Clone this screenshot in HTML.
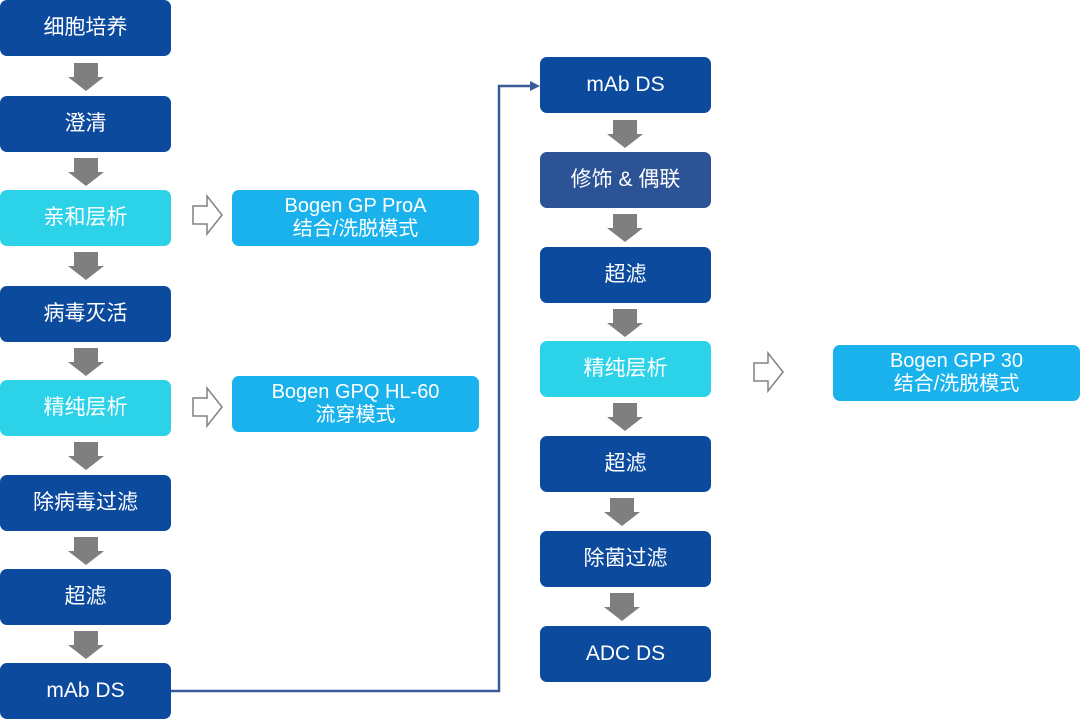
<!DOCTYPE html>
<html><head><meta charset="utf-8"><style>
body{margin:0;width:1080px;height:721px;background:#fff;position:relative;overflow:hidden;font-family:"Liberation Sans","Noto Sans CJK SC",sans-serif}
.b{position:absolute;width:171px;height:56px;border-radius:7px;background:#0c4a9e;color:#fff;font-size:21px;display:flex;align-items:center;justify-content:center;text-align:center;line-height:1.2}
.c{background:#2cd3e8}
.m{background:#2c5396}
.s{background:#19b2ec;width:247px;font-size:20px;line-height:1.15}
svg{position:absolute;left:0;top:0}
</style></head><body>
<div class="b" style="left:0;top:0">细胞培养</div>
<div class="b" style="left:0;top:96px">澄清</div>
<div class="b c" style="left:0;top:190px">亲和层析</div>
<div class="b" style="left:0;top:286px">病毒灭活</div>
<div class="b c" style="left:0;top:380px">精纯层析</div>
<div class="b" style="left:0;top:475px">除病毒过滤</div>
<div class="b" style="left:0;top:569px">超滤</div>
<div class="b" style="left:0;top:663px">mAb DS</div>
<div class="b s" style="left:232px;top:190px">Bogen GP ProA<br>结合/洗脱模式</div>
<div class="b s" style="left:232px;top:376px">Bogen GPQ HL-60<br>流穿模式</div>
<div class="b" style="left:540px;top:57px">mAb DS</div>
<div class="b m" style="left:540px;top:152px">修饰 &amp; 偶联</div>
<div class="b" style="left:540px;top:247px">超滤</div>
<div class="b c" style="left:540px;top:341px">精纯层析</div>
<div class="b" style="left:540px;top:436px">超滤</div>
<div class="b" style="left:540px;top:531px">除菌过滤</div>
<div class="b" style="left:540px;top:626px">ADC DS</div>
<div class="b s" style="left:833px;top:345px">Bogen GPP 30<br>结合/洗脱模式</div>
<svg width="1080" height="721">
<defs><g id="a"><path d="M-12,0 H12 V14 H18 L0,28 L-18,14 H-12 Z" fill="#7f7f7f"/></g>
<g id="h"><path d="M0,-9 H14 V-19 L29,0 L14,19 V9 H0 Z" fill="#fff" stroke="#808080" stroke-width="1.5"/></g></defs>
<use href="#a" x="86" y="63"/><use href="#a" x="86" y="158"/><use href="#a" x="86" y="252"/>
<use href="#a" x="86" y="348"/><use href="#a" x="86" y="442"/><use href="#a" x="86" y="537"/>
<use href="#a" x="86" y="631"/>
<use href="#a" x="625" y="120"/><use href="#a" x="625" y="214"/><use href="#a" x="625" y="309"/>
<use href="#a" x="625" y="403"/><use href="#a" x="622" y="498"/><use href="#a" x="622" y="593"/>
<use href="#h" x="193" y="215"/><use href="#h" x="193" y="407"/><use href="#h" x="754" y="372"/>
<path d="M171,691 H499 V86 H532" fill="none" stroke="#3a5a99" stroke-width="2.5"/>
<path d="M540,86 L530,81 L530,91 Z" fill="#3a5a99"/>
</svg>
</body></html>
